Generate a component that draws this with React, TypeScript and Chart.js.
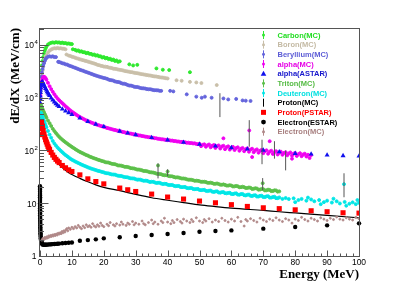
import React, { useEffect, useRef } from "react";
import { Chart, registerables } from "chart.js";

Chart.register(...registerables);

type P = [number, number];

// ---------------- DATA (energy MeV, dE/dX MeV/cm) ----------------
const carbonMC: P[] = [
  [0.15,1700],[0.3,2500],[0.45,3300],[0.6,4100],[0.8,5000],[1,5900],[1.25,6900],[1.5,7800],[1.75,8600],[2,9300],
  [2.5,10200],[3,10700],[3.5,11000],[4,11200],[4.5,11000],[5,11300],[5.5,11100],[6,11200],[6.5,10900],[7,11100],
  [7.5,10800],[8,10900],[8.5,10600],[9,10700],[9.5,10500],[10,10400],
  [10.3,8300],[11,8100],[11.5,7800],[12,7900],[12.5,7500],[13,7600],[13.5,7300],[14,7300],[14.5,7000],[15,7100],
  [15.5,6800],[16,6800],[16.5,6500],[17,6600],[17.5,6300],[18,6400],[18.5,6100],[19,6100],[19.5,5800],[20,5900],
  [20.5,5600],[21,5700],[21.5,5400],[22,5500],[22.5,5200],[23,5300],[23.5,5000],[24,5100],[24.5,4800],[25,4900],
  [28,4300],[29.2,4100],[30.5,4200],[36.5,3600],[38.5,3400],[40.5,3350],[47,3050],
];

const boronMC: P[] = [
  [0.15,1200],[0.3,1700],[0.45,2200],[0.6,2700],[0.8,3300],[1,3900],[1.25,4600],[1.5,5300],[1.75,5900],[2,6400],
  [2.5,7200],[3,7800],[3.5,8200],[4,8500],[4.5,8700],[5,8600],[5.5,8800],[6,8600],[6.5,8700],[7,8500],[7.5,8500],[8,8300],
  [8.3,6600],[9,6300],[9.5,6200],[10,6000],[10.5,5900],[11,5750],[11.5,5600],[12,5500],[12.5,5350],[13,5250],
  [13.5,5150],[14,5050],[14.5,4950],[15,4850],[15.5,4750],[16,4650],[16.5,4550],[17,4450],[17.5,4350],[18,4200],
  [18.5,4150],[19,4050],[19.5,4000],[20,3900],[20.5,3880],[21,3850],[21.5,3760],[22,3700],[22.5,3650],[23,3550],
  [23.5,3540],[24,3500],[24.5,3420],[25,3380],[25.5,3350],[26,3300],[26.5,3230],[27,3180],[27.5,3150],[28,3100],
  [28.5,3060],[29,3040],[29.5,2980],[30,2940],[30.5,2920],[31,2880],[31.5,2830],[32,2790],[32.5,2770],[33,2730],
  [33.5,2690],[34,2660],[34.5,2640],[35,2600],[35.5,2560],[36,2540],[36.5,2520],[37,2490],[37.5,2450],[38,2420],
  [38.5,2410],[39,2380],[39.5,2340],[40,2320],
  [42.8,2150],[44.4,2100],[47,2000],[49,1950],[50.6,1900],[55.4,1740],
];

const berylliumMC: P[] = [
  [0.15,1300],[0.3,1900],[0.45,2500],[0.6,3000],[0.8,3500],[1,4000],[1.25,4500],[1.5,5000],[1.75,5400],[2,5700],
  [2.5,6000],[3,6100],[3.5,6000],[4,6100],[4.5,5900],[5,5900],
  [5.7,4800],[6,4750],[6.5,4650],[7,4500],[7.5,4450],[8,4300],[8.5,4250],[9,4100],[9.5,4000],[10,3900],
  [10.5,3800],[11,3700],[11.5,3600],[12,3500],[12.5,3400],[13,3320],[13.5,3250],[14,3150],[14.5,3080],[15,3000],
  [15.5,2930],[16,2850],[16.5,2780],[17,2700],[17.5,2640],[18,2580],[18.5,2520],[19,2470],[19.5,2420],[20,2370],
  [20.5,2340],[21,2290],[21.5,2210],[22,2160],[22.5,2150],[23,2110],[23.5,2040],[24,2000],[24.5,1990],[25,1960],
  [25.5,1890],[26,1850],[26.5,1840],[27,1800],[27.5,1740],[28,1700],[28.5,1700],[29,1670],[29.5,1620],[30,1600],
  [30.5,1600],[31,1570],[31.5,1530],[32,1510],[32.5,1510],[33,1490],[33.5,1460],[34,1450],[34.5,1450],[35,1430],
  [35.5,1400],[36,1390],[36.5,1390],[37,1380],[37.5,1350],[38,1350],
  [40.8,1350],[41.8,1320],[46,1160],[49,1050],[50.7,1000],[51.7,1050],[53.8,1000],[57.5,970],[59,930],
  [61.5,950],[63.5,890],[64.5,880],[66,870],
];

const alphaMC: P[] = [
  [0.15,1100],[0.3,1500],[0.45,1850],[0.6,2100],[0.8,2300],[1,2450],[1.25,2500],[1.5,2450],[1.75,2350],[2,2200],
  [2.5,1920],[3,1660],[3.5,1460],[4,1300],[4.5,1170],[5,1060],[5.5,970],[6,900],[6.5,840],[7,790],[7.5,740],
  [8,690],[8.5,650],[9,610],[9.5,575],[10,545],[10.5,520],[11,495],[11.5,470],[12,450],[12.5,432],[13,415],
  [13.5,400],[14,385],[14.5,372],[15,360],[15.5,351],[16,340],[16.5,332],[17,322],[17.5,315],[18,306],
  [18.5,300],[19,292],[19.5,287],[20,280],[20.5,275],[21,268],[21.5,264],[22,258],[22.5,254],[23,248],
  [23.5,245],[24,240],[24.5,237],[25,232],[25.5,229],[26,224],[26.5,222],[27,217],[27.5,215],[28,211],
  [28.5,209],[29,205],[29.5,203],[30,199],[30.5,197],[31,193],[31.5,192],[32,188],[32.5,187],[33,183],
  [33.5,182],[34,179],[34.5,178],[35,175],[35.5,174],[36,171],[36.5,170],[37,167],[37.5,166],[38,163],
  [38.5,163],[39,160],[39.5,160],[40,157],[40.5,157],[41,154],[41.5,154],[42,151],[42.5,151],[43,148],
  [43.5,148],[44,145],[44.5,146],[45,143],[45.5,143],[46,140],[46.5,141],[47,138],[47.5,139],[48,136],
  [48.5,137],[49,133],[49.5,132],
  [50,134],[50.5,121],[51,128],[51.5,131],[52,118],[52.5,126],[53,130],[53.5,115],[54,123],[54.5,127],
  [55,112],[55.5,121],[56,125],[56.5,109],[57,119],[57.5,123],[58,106],[58.5,116],[59,120],[59.5,104],
  [60,113],[60.5,117],[61,102],[61.5,111],[62,115],[62.5,99],[63,108],[63.5,112],[64,97],[64.5,106],
  [65,110],[65.5,95],[66,104],[66.5,108],[67,93],[67.5,101],[68,105],[68.5,91],[69,99],[69.5,103],
  [70,89],[70.5,97],[71,101],[71.5,87],[72,95],[72.5,99],[73,86],[73.5,93],[74,97],[74.5,84],
  [75,91],[75.5,95],[76,83],[76.5,90],[77,93],[77.5,81],[78,88],[78.5,92],[79,80],[79.5,87],
  [80,90],[80.5,79],[81,85],[81.5,89],[82,78],[82.5,84],[83,87],[83.5,77],[84,83],[85,82],
  [57.5,170],[65.6,240],[66.5,75],[72,150],[79,70],[84.5,72],
];

const alphaASTAR: P[] = [
  [0.01,380],[0.02,500],[0.04,650],[0.06,800],[0.08,950],[0.1,1080],[0.13,1250],[0.16,1400],[0.2,1550],
  [0.25,1700],[0.3,1800],[0.4,1900],[0.5,1950],[0.75,2000],[1,1900],[1.25,1750],[1.5,1620],[1.75,1500],
  [2,1400],[2.25,1300],[2.5,1230],[2.75,1160],[3,1100],[3.5,990],[4,900],[4.5,830],[5,770],[5.5,720],[6,680],
  [7,610],[8,560],[9,520],[10,480],[12.5,410],[15,355],[17.5,315],[20,283],[25,232],[27.5,214],[30,199],
  [35,176],[40,158],[45,143],[50,131],[55,121],[60,113],[65,106],[70,101],[75,94],[80,88],[85,85.7],
  [90,82],[95,79.5],[100,78.5],
];

const tritonMC: P[] = [
  [0.02,270],[0.05,400],[0.1,500],[0.15,600],[0.2,680],
  [0.3,720],[0.45,690],[0.6,650],[0.8,610],[1,570],[1.25,530],[1.5,490],[1.75,455],[2,420],[2.5,370],[3,330],
  [3.5,292],[4,258],[4.5,234],[5,214],[5.5,197],[6,182],[6.5,170],[7,160],[7.5,151],[8,143],[8.5,136],[9,129],
  [9.5,123],[10,117],[10.5,112],[11,107],[11.5,102],[12,98],[12.5,94],[13,91],[13.5,88],[14,85],[14.5,82],
  [15,80],[15.5,77],[16,75],[16.5,73],[17,71],[17.5,69.5],[18,67.5],[18.5,66],[19,64.5],[19.5,63],[20,62],
  [20.5,60],[21,59.5],[21.5,59],[22,57.5],[22.5,56],[23,55.5],[23.5,55],[24,53.5],[24.5,52],[25,52],
  [25.5,51.5],[26,50.5],[26.5,49],[27,49],[27.5,48.6],[28,47.5],[28.5,46.2],[29,46],[29.5,45.6],[30,44.5],
  [30.5,43.4],[31,43.5],[31.5,42.9],[32,42],[32.5,40.9],[33,41],[33.5,40.5],[34,39.5],[34.5,38.6],[35,38.5],
  [35.5,38.1],[36,37.5],[36.5,36.4],[37,36],[37.5,35.9],[38,35.5],[38.5,34.4],[39,34],[39.5,34],[40,33.5],
  [40.5,32.6],[41,32.5],[41.5,32.3],[42,31.5],[42.5,30.8],[43,31],[43.5,30.7],[44,30],[44.5,29.4],[45,29.5],
  [45.5,29.2],[46,28.5],[46.5,27.9],[47,28],[47.5,27.8],[48,27.3],[48.5,26.6],[49,26.8],[49.5,26.6],[50,26.2],
  [50.5,25.5],[51,25.5],[51.5,25.6],[52,25.2],[52.5,24.4],[53,24.4],[53.5,24.6],[54,24.1],[54.5,23.4],[55,23.3],
  [55.5,23.7],[56,23.2],[56.5,22.5],[57,22.4],[57.5,22.8],[58,22.3],[58.5,21.6],[59,21.6],[59.5,22],[60,21.6],
  [60.5,20.8],[61,20.9],[61.5,21.3],[62,21],[62.5,20.1],[63,20.2],[63.5,20.6],[64,20.2],[64.5,19.4],[65,19.5],
  [65.5,19.9],[66,19.6],[66.5,18.7],[67,18.8],[67.5,19.3],[68,19],[68.5,18.1],[69,18.2],[69.5,18.7],[70,18.5],
  [70.5,17.5],[71,17.6],[71.5,18.1],[72,17.9],[72.5,17],[73,17.1],[73.5,17.6],[74,17.5],[74.5,16.6],[75,16.8],
  [37,52],[40,40],[69.8,24],
];

const deuteronMC: P[] = [
  [0.02,10],[0.05,300],[0.1,380],[0.2,460],
  [0.3,520],[0.45,495],[0.6,470],[0.8,435],[1,400],[1.25,365],[1.5,330],[1.75,300],[2,275],[2.5,235],[3,200],
  [3.5,175],[4,152],[4.5,136],[5,124],[5.5,114],[6,106],[6.5,99],[7,93],[7.5,87],[8,82],[8.5,78],[9,74],
  [9.5,70],[10,67],[10.5,64.5],[11,62],[11.5,60],[12,58],[12.5,56],[13,54],[13.5,52.5],[14,51],[14.5,49.5],
  [15,48],[15.5,46.8],[16,45.5],[16.5,44.5],[17,43.5],[17.5,42.5],[18,41.5],[18.5,40.8],[19,40],[19.5,39.2],
  [20,38.5],[20.5,37.4],[21,37],[21.5,36.8],[22,36],[22.5,35.2],[23,35],[23.5,34.9],[24,34],[24.5,33.2],
  [25,33],[25.5,32.9],[26,32],[26.5,31.3],[27,31.2],[27.5,31],[28,30.2],[28.5,29.6],[29,29.6],[29.5,29.4],
  [30,28.6],[30.5,28],[31,28.1],[31.5,28],[32,27.2],[32.5,26.6],[33,26.8],[33.5,26.7],[34,25.9],[34.5,25.3],
  [35,25.6],[35.5,25.5],[36,24.8],[36.5,24.2],[37,24.5],[37.5,24.4],[38,23.6],[38.5,23.1],[39,23.3],[39.5,23.3],
  [40,22.5],[40.5,22.1],[41,22.2],[41.5,22.3],[42,21.4],[42.5,21.1],[43,21.2],[43.5,21.3],[44,20.4],[44.5,20.2],
  [45,20.3],[45.5,20.4],[46,19.5],[46.5,19.3],[47,19.4],[47.5,19.5],[48,18.7],[48.5,18.5],[49,18.6],[49.5,18.7],
  [50,17.9],[50.5,17.7],[51,17.9],[51.5,18],[52,17.2],[52.5,17],[53,17.3],[53.5,17.4],[54,16.6],[54.5,16.4],
  [55,16.7],[55.5,16.8],[56,16],[56.5,15.9],[57,16.2],[57.5,16.3],[58,15.5],[58.5,15.4],[59,15.7],[59.5,15.8],
  [60,15],[60.5,14.9],[61,15.3],[61.5,15.4],[62,14.6],[62.5,14.5],[63,14.9],[63.5,15],[64,14.2],[64.5,14.1],
  [65,14.5],[65.5,14.6],[66,13.8],[66.5,13.7],[67,14.1],[67.5,14.2],[68,13.4],[68.5,13.4],[69,13.8],[69.5,13.9],
  [70,13.1],[70.5,13.1],[71,13.5],[71.5,13.6],[72,12.8],[72.5,12.8],[73,13.1],[73.5,13.3],[74,12.5],[74.5,12.5],
  [75,12.9],[76,12.1],[77,12.6],[78,12],[79.5,12.4],[81,11.5],[82,12.1],[83.5,11.2],
  [85,11.8],[86,10.9],[87.5,11.5],[89,10.5],[90,11.2],[91.5,10.3],[93,10.9],[94,9.9],[95.5,10.6],[97,9.8],
  [98,10.4],[99,9.6],[100,10.2],
  [80,10.5],[84,12.8],[88,9.6],[92,12.2],[96,9],[99.5,11.5],[95.3,23],
];

const protonMC: P[] = [
  [0.7,300],[1,230],[1.5,170],[2,135],[3,96],[4,76],[5,63],[6,54],[7,47.5],[8,42],[9,38],[10,35],
  [12.5,29.6],[15,25.5],[17.5,22.3],[20,20],[25,17.3],[30,14.7],[35,12.7],[40,11.4],[45,10.3],[50,9.3],
  [55,8.65],[60,8.1],[70,7.3],[75,6.9],[80,6.55],[90,5.9],[100,5.3],
];

const protonPSTAR: P[] = [
  [0.05,200],[0.15,260],[0.25,310],[0.35,340],[0.45,350],
  [0.5,340],[0.75,290],[1,240],[1.25,205],[1.5,180],[1.75,160],[2,145],[2.25,132],[2.5,120],[2.75,111],[3,104],
  [3.5,92],[4,82],[4.5,74],[5,68],[5.5,63],[6,59],[7,52],[8,47],[9,43],[10,40],[12.5,34.5],[15,29],
  [17.5,25.8],[20,23.3],[25,19.4],[27.5,18],[30,16.7],[35,14.9],[40,13.1],[45,12],[50,11],[55,10.2],
  [60,9.4],[65,8.7],[70,8.2],[75,7.9],[80,7.5],[85,7.2],[90,6.9],[95,6.6],[100,6.5],
];

const electronESTAR: P[] = [
  [0.01,21],[0.011,19.5],[0.012,18],[0.013,16.5],[0.014,15],[0.015,14],[0.017,13],[0.019,12],[0.021,11],[0.024,10],
  [0.027,9.3],[0.03,8.6],[0.033,8],[0.036,7.4],[0.04,6.9],[0.045,6.4],[0.05,5.9],[0.055,5.5],[0.06,5.1],[0.067,4.7],
  [0.075,4.4],[0.083,4.1],[0.09,3.8],[0.1,3.5],[0.11,3.3],[0.12,3.1],[0.14,2.9],[0.16,2.7],[0.18,2.55],[0.2,2.4],
  [0.23,2.28],[0.26,2.16],[0.3,2.05],[0.35,1.97],[0.4,1.9],[0.5,1.82],[0.6,1.75],[0.7,1.7],[0.8,1.66],
  [1,1.64],[1.25,1.63],[1.5,1.63],[1.75,1.63],[2,1.64],[2.5,1.65],[3,1.66],[3.5,1.67],[4,1.68],[4.5,1.69],
  [5,1.7],[5.5,1.71],[6,1.72],[7,1.74],[8,1.76],[9,1.78],[10,1.8],
  [12.5,1.95],[15,2.0],[17.5,2.07],[20,2.16],[25,2.26],[30,2.39],[35,2.5],[40,2.61],[45,2.73],[50,2.89],
  [55,2.97],[60,3.06],[70,3.3],[80,3.54],[90,3.81],[100,4.16],
];

const electronMC: P[] = [
  [0.6,2.0],[0.9,2.15],[1.2,2.05],[1.5,2.25],[1.8,2.15],[2.1,2.3],[2.4,2.2],[2.7,2.4],[3,2.3],[3.3,2.45],
  [3.6,2.35],[3.9,2.5],[4.2,2.4],[4.5,2.55],[4.8,2.45],[5.1,2.6],[5.4,2.5],[5.7,2.7],[6,2.6],[6.3,2.75],
  [6.6,2.65],[6.9,2.9],[7.2,2.75],[7.5,3.0],[7.8,2.85],[8.1,3.1],[8.4,3.3],[8.7,3.0],[9,3.4],[9.5,3.2],
  [10,3.5],[10.5,3.3],[11,3.6],[11.5,3.4],[12,3.8],[12.5,3.5],[13,3.3],[13.5,3.7],[14,3.45],[14.5,3.9],
  [15,3.6],[15.5,3.75],[16,3.5],[16.5,4.1],[17,3.7],[17.5,3.55],[18,3.9],[18.5,3.65],[19,4.2],[19.5,3.8],
  [20,3.6],[21,4.0],[21.5,3.75],[22,4.3],[23,3.9],[23.5,3.7],[24,4.1],[25,3.85],[25.5,4.4],[26,4.0],
  [27,3.8],[27.5,4.2],[28,4.0],[29,4.5],[29.5,3.9],[30,4.2],[31,4.0],[32,4.6],[32.5,4.1],[33,3.9],
  [34,4.3],[35,4.8],[35.5,4.1],[36,4.4],[37,4.0],[38,4.6],[38.5,4.3],[39,5.2],[40,4.4],[41,4.1],
  [41.5,4.7],[42,4.3],[43,4.9],[44,4.5],[44.5,4.2],[45,5.0],[46,4.6],[47,4.3],[47.5,4.9],[48,4.5],
  [49,5.3],[50,4.6],[51,4.3],[51.5,4.9],[52,4.6],[53,5.1],[54,4.4],[55,4.8],[56,4.5],[57,5.2],
  [58,4.7],[59,4.4],[60,5.0],[61,4.6],[62,5.4],[63,4.5],[64,3.7],[64.5,4.9],[65,4.6],[66,5.1],
  [67,4.7],[68,4.4],[69,5.2],[70,4.8],[71,4.5],[72,5.0],[73,4.7],[74,5.3],[75,4.8],[76,4.5],
  [77,5.1],[78,4.8],[79,4.2],[80,5.0],[81,4.7],[82,5.4],[83,4.9],[84,4.6],[85,5.2],[86,4.9],
  [87,4.6],[88,5.3],[89,5.0],[90,4.7],[91,5.2],[92,4.9],[93,5.5],[94,5.0],[95,4.8],[96,5.3],
  [97,5.0],[98,4.8],[99,5.4],[100,5.1],
];

// error bars: [energy, low, high]
const errorBars: [number, number, number][] = [
  [56.4,430,1220],[37,29.6,57],[40,32.5,44],[65.6,118,376],[69.6,55,160],[73.5,70,150],
  [77,42,100],[69.8,17.8,30],[95.3,13,37],
];

// axis ticks
const xMajorTicks = [0,10,20,30,40,50,60,70,80,90,100];
const yMajorTicks = [1,10,100,1000,10000];
const yTickBase = ["1","10","10","10","10"];
const yTickExp = ["","","2","3","4"];

// legend
const legendNames = ["Carbon(MC)","Boron(MC)","Beryllium(MC)","alpha(MC)","alpha(ASTAR)","Triton(MC)","Deuteron(MC)","Proton(MC)","Proton(PSTAR)","Electron(ESTAR)","Electron(MC)"];
const legendMarkers = ["bar","bar","bar","bar","triangle","bar","bar","line","square","circle","bar"];

const C = {
  carbon: "#2ee82e",
  boron: "#c9bfa9",
  beryllium: "#6464dc",
  alphaMC: "#f000f0",
  alphaASTAR: "#1010ee",
  triton: "#5cc04a",
  deuteron: "#00e6e6",
  protonMC: "#000000",
  protonPSTAR: "#ff0000",
  electronESTAR: "#000000",
  electronMC: "#b08888",
};
const legendColors = [C.carbon, C.boron, C.beryllium, C.alphaMC, C.alphaASTAR, C.triton, C.deuteron, C.protonMC, C.protonPSTAR, C.electronESTAR, C.electronMC];
const legendTextColors = ["#22dd22", "#c4baa4", "#5c5cd6", "#e600e6", "#1515cc", "#55bb44", "#00e0e0", "#000000", "#ff0000", "#000000", "#a88080"];

const pts = (arr: P[]) => arr.map(([x, y]) => ({ x, y }));

function mcSet(label: string, arr: P[], color: string, idx: number, r = 1.1) {
  return {
    label,
    data: pts(arr),
    showLine: false,
    pointRadius: r,
    pointBorderWidth: 0.9,
    pointBackgroundColor: color,
    pointBorderColor: color,
    backgroundColor: color,
    borderColor: color,
    order: 100 - idx,
  };
}

const rootPlugin = {
  id: "rootAxes",
  afterDraw(chart: any) {
    const { ctx, chartArea: a, scales } = chart;
    const xs = scales.x;
    const ys = scales.y;
    ctx.save();
    ctx.strokeStyle = "#555";
    ctx.lineWidth = 1;
    // frame
    ctx.strokeRect(Math.round(a.left) - 0.5, Math.round(a.top) + 0.5, Math.round(a.right - a.left) + 1, Math.round(a.bottom - a.top));
    const line = (x1: number, y1: number, x2: number, y2: number) => {
      ctx.beginPath();
      ctx.moveTo(x1, y1);
      ctx.lineTo(x2, y2);
      ctx.stroke();
    };
    const bottom = Math.round(a.bottom) + 0.5;
    const left = Math.round(a.left) - 0.5;
    // x ticks
    for (let v = 0; v <= 100; v += 2) {
      const px = Math.round(xs.getPixelForValue(v)) + 0.5;
      const len = v % 10 === 0 ? 6 : 3;
      line(px, bottom, px, bottom - len);
    }
    // y ticks
    yMajorTicks.forEach((d) => {
      for (let m = 1; m <= 9; m++) {
        const v = d * m;
        if (v > ys.max) break;
        const py = Math.round(ys.getPixelForValue(v)) + 0.5;
        line(left, py, left + (m === 1 ? 9 : 4.5), py);
      }
    });
    // x labels
    ctx.fillStyle = "#000";
    ctx.font = '8.5px "Liberation Sans", Arial, sans-serif';
    ctx.textAlign = "center";
    ctx.textBaseline = "middle";
    xMajorTicks.forEach((v) => {
      ctx.fillText(String(v), xs.getPixelForValue(v), a.bottom + 7);
    });
    // y labels
    yMajorTicks.forEach((v, i) => {
      const py = ys.getPixelForValue(v);
      ctx.font = '8.5px "Liberation Sans", Arial, sans-serif';
      ctx.textAlign = "right";
      if (yTickExp[i]) {
        ctx.fillText(yTickBase[i], a.left - 6, py + 1);
        ctx.textAlign = "left";
        ctx.font = '6px "Liberation Sans", Arial, sans-serif';
        ctx.fillText(yTickExp[i], a.left - 5.5, py - 2.5);
      } else {
        ctx.fillText(yTickBase[i], a.left - 3.5, py + 1);
      }
    });
    // titles
    ctx.font = 'bold 13px "Liberation Serif", "Times New Roman", serif';
    ctx.textAlign = "right";
    ctx.textBaseline = "middle";
    ctx.fillText("Energy (MeV)", a.right, a.bottom + 18.5);
    ctx.save();
    ctx.translate(15.5, a.top);
    ctx.rotate(-Math.PI / 2);
    ctx.fillText("dE/dX (MeV/cm)", 0, 0);
    ctx.restore();
    // legend
    legendNames.forEach((name, i) => {
      const y = 35 + i * 9.67;
      const mx = 263.5;
      const col = legendColors[i];
      ctx.fillStyle = col;
      ctx.strokeStyle = col;
      ctx.lineWidth = 1;
      const mk = legendMarkers[i];
      if (mk === "bar" || mk === "line") {
        line(mx, y - 4, mx, y + 4);
        if (mk === "bar") {
          ctx.beginPath();
          ctx.arc(mx, y, 1.5, 0, Math.PI * 2);
          ctx.fill();
        }
      } else if (mk === "triangle") {
        ctx.beginPath();
        ctx.moveTo(mx, y - 3);
        ctx.lineTo(mx + 2.8, y + 2);
        ctx.lineTo(mx - 2.8, y + 2);
        ctx.closePath();
        ctx.fill();
      } else if (mk === "square") {
        ctx.fillRect(mx - 2.5, y - 2.5, 5, 5);
      } else if (mk === "circle") {
        ctx.beginPath();
        ctx.arc(mx, y, 2.4, 0, Math.PI * 2);
        ctx.fill();
      }
      ctx.fillStyle = legendTextColors[i];
      ctx.font = 'bold 7.5px "Liberation Sans", Arial, sans-serif';
      ctx.textAlign = "left";
      ctx.textBaseline = "middle";
      ctx.fillText(name, 277.5, y + 0.5);
    });
    ctx.restore();
  },
};

export default function App() {
  const ref = useRef<HTMLCanvasElement>(null);
  useEffect(() => {
    const canvas = ref.current;
    if (!canvas) return;
    const errData = errorBars.flatMap(([e, lo, hi]) => [
      { x: e, y: lo },
      { x: e, y: hi },
      { x: e, y: null as any },
    ]);
    const datasets: any[] = [
      mcSet("Carbon(MC)", carbonMC, C.carbon, 0, 1.5),
      mcSet("Boron(MC)", boronMC, C.boron, 1, 1.5),
      mcSet("Beryllium(MC)", berylliumMC, C.beryllium, 2, 1.5),
      mcSet("alpha(MC)", alphaMC, C.alphaMC, 3, 1.5),
      {
        label: "alpha(ASTAR)",
        data: pts(alphaASTAR),
        showLine: false,
        pointStyle: "triangle",
        pointRadius: 2.9,
        pointBorderWidth: 0,
        pointBackgroundColor: C.alphaASTAR,
        pointBorderColor: C.alphaASTAR,
        order: 100 - 4,
      },
      mcSet("Triton(MC)", tritonMC, C.triton, 5, 1.5),
      mcSet("Deuteron(MC)", deuteronMC, C.deuteron, 6, 1.5),
      {
        label: "Proton(MC)",
        data: pts(protonMC),
        showLine: true,
        pointRadius: 0,
        borderColor: C.protonMC,
        borderWidth: 1.2,
        cubicInterpolationMode: "monotone",
        fill: false,
        order: 100 - 7,
      },
      {
        label: "Proton(PSTAR)",
        data: pts(protonPSTAR),
        showLine: false,
        pointStyle: "rect",
        pointRadius: 3.6,
        pointBorderWidth: 0,
        pointBackgroundColor: C.protonPSTAR,
        pointBorderColor: C.protonPSTAR,
        order: 100 - 8,
      },
      {
        label: "Electron(ESTAR)",
        data: pts(electronESTAR),
        showLine: false,
        pointRadius: 2.2,
        pointBorderWidth: 0,
        pointBackgroundColor: C.electronESTAR,
        pointBorderColor: C.electronESTAR,
        clip: false,
        order: 100 - 9,
      },
      mcSet("Electron(MC)", electronMC, C.electronMC, 10, 1.0),
      {
        label: "errors",
        data: errData,
        showLine: true,
        spanGaps: false,
        pointRadius: 0,
        borderColor: "#555555",
        borderWidth: 1,
        fill: false,
        order: 100 - 11,
      },
    ];
    const chart = new Chart(canvas, {
      type: "scatter",
      data: { datasets },
      options: {
        responsive: false,
        animation: false,
        devicePixelRatio: 1,
        events: [],
        layout: { padding: { left: 40, right: 40, top: 28, bottom: 30 } },
        scales: {
          x: { type: "linear", min: 0, max: 100, display: false },
          y: { type: "logarithmic", min: 1, max: 21000, display: false },
        },
        plugins: { legend: { display: false }, tooltip: { enabled: false } },
      },
      plugins: [rootPlugin],
    } as any);
    return () => chart.destroy();
  }, []);
  return (
    <div style={{ position: "absolute", left: 0, top: 0, width: 399, height: 286, background: "#fff" }}>
      <canvas ref={ref} width={399} height={286} style={{ display: "block", width: 399, height: 286 }} />
    </div>
  );
}
